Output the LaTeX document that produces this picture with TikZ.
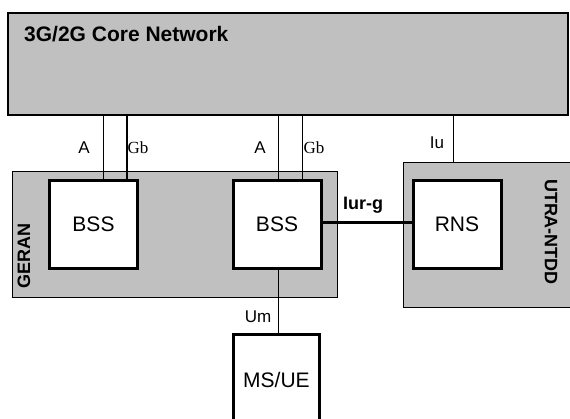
\documentclass[tikz,border=0pt]{standalone}
\usepackage{fontspec}
\setmainfont{Liberation Sans}
\newfontfamily\serifgb{Liberation Serif}
\usetikzlibrary{positioning}
\usepackage{xcolor}
\definecolor{netgray}{RGB}{192, 192, 192}

\begin{document}
\begin{tikzpicture}[
  x=1pt, y=-1pt,
  core/.style={rectangle, draw=black, fill=netgray, line width=2pt, minimum width=560pt, minimum height=102pt, inner sep=0pt},
  area/.style={rectangle, draw=black, fill=netgray, line width=1pt, inner sep=0pt},
  unit/.style={rectangle, draw=black, fill=white, line width=3pt, minimum width=88pt, minimum height=88pt, inner sep=0pt, font=\fontsize{21}{25}\selectfont},
  iface/.style={draw=black, line width=1pt},
  lbl/.style={inner sep=0pt, font=\fontsize{17}{20}\selectfont},
  gblbl/.style={inner sep=0pt, font=\fontsize{17}{20}\serifgb},
  title/.style={inner sep=0pt, font=\fontsize{18}{22}\selectfont\bfseries}
]
\useasboundingbox (0,0) rectangle (570,419);

% Core Network
\node[core] (core) at (288,64) {};
\node[inner sep=0pt, anchor=west, font=\fontsize{21}{25}\selectfont\bfseries] (coretitle) at (24,34) {3G/2G Core Network};

% Access Networks
\node[area, minimum width=325pt, minimum height=126pt] (geran) at (175,234.5) {};
\node[area, minimum width=171.5pt, minimum height=145pt] (utra) at (489.25,235) {};
\node[title, rotate=90] (gerantitle) at (24,256) {GERAN};
\node[title, rotate=-90] (utratitle) at (551,232) {UTRA-NTDD};

% Units
\node[unit] (bssA) at (93.5,224.5) {BSS};
\node[unit] (bssB) at (277,224.5) {BSS};
\node[unit] (rns) at (457,224.5) {RNS};
\node[unit, minimum width=86pt, minimum height=91pt] (ms) at (276.5,380) {MS/UE};

% Interfaces
\draw[iface] ([xshift=9.5pt]bssA.north) -- ([xshift=9.5pt]bssA.north |- core.south);
\draw[iface, line width=1.4pt] ([xshift=33.5pt]bssA.north) -- ([xshift=33.5pt]bssA.north |- core.south);
\draw[iface] ([xshift=1pt]bssB.north) -- ([xshift=1pt]bssB.north |- core.south);
\draw[iface] ([xshift=25pt]bssB.north) -- ([xshift=25pt]bssB.north |- core.south);
\draw[iface] ([xshift=-36.25pt]utra.north) -- ([xshift=-36.25pt]utra.north |- core.south);
\draw[iface] ([xshift=1pt]bssB.south) -- ([xshift=1pt]bssB.south |- ms.north);
\draw[draw=black, line width=3pt] (bssB.east |- 0,223) -- (rns.west |- 0,223);

% Labels
\node[lbl] (lA1) at (84,148) {A};
\node[gblbl] (lGb1) at (138,148) {Gb};
\node[lbl] (lA2) at (260,148) {A};
\node[gblbl] (lGb2) at (314,148) {Gb};
\node[lbl] (lIu) at (437,143) {Iu};
\node[lbl] (lUm) at (258,317) {Um};
\node[title] (lIurg) at (363,205) {Iur-g};

\end{tikzpicture}
\end{document}
